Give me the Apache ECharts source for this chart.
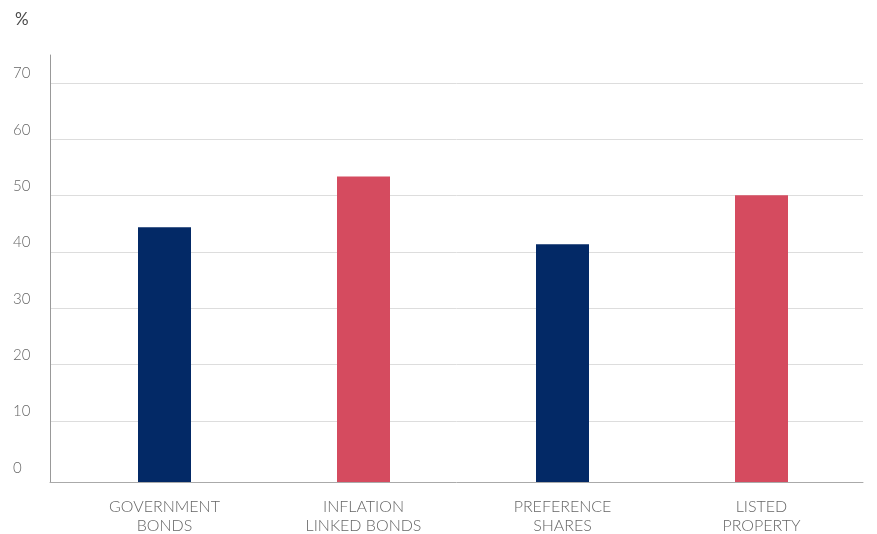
<!DOCTYPE html>
<html>
<head>
<meta charset="utf-8">
<script src="https://cdn.jsdelivr.net/npm/echarts@6/dist/echarts.min.js"></script>
<style>
  html, body { margin: 0; padding: 0; background: #fff; }
  #chart { width: 877px; height: 534px; }
</style>
</head>
<body>
<div id="chart"></div>
<script>
// data
const categories = ['GOVERNMENT\nBONDS', 'INFLATION\nLINKED BONDS', 'PREFERENCE\nSHARES', 'LISTED\nPROPERTY']
const values = [44.4, 53.4, 41.4, 50.1]
const barColors = ['#032966', '#D54B5F', '#032966', '#D54B5F']
const tickLabels = [0, 10, 20, 30, 40, 50, 60, 70]
const gridTicks = [10, 20, 30, 40, 50, 60, 70]

const fontFamily = 'Lato, "Open Sans", sans-serif'
// the baseline sits a little below the 0 value
const yMin = -0.85
const yMax = 75

const chart = echarts.init(document.getElementById('chart'))

// bars run from the baseline (yMin) up to their value
function renderBar(params, api) {
  const idx = api.value(0)
  const top = api.coord([idx, api.value(1)])
  const bottom = api.coord([idx, yMin])
  const w = 53
  return {
    type: 'rect',
    shape: { x: top[0] - w / 2, y: top[1], width: w, height: bottom[1] - top[1] },
    style: { fill: barColors[params.dataIndex] },
  }
}

const option = {
  animation: false,
  backgroundColor: '#fff',
  textStyle: { fontFamily },
  title: {
    text: '%',
    left: 15,
    top: 11,
    padding: 0,
    textStyle: { fontSize: 17, fontWeight: 'normal', color: '#4a4a4a', fontFamily },
  },
  grid: [
    // frame: y axis, gridlines, baseline
    { left: 50, right: 14, top: 55, bottom: 52, outerBoundsMode: 'none' },
    // bars and category labels
    { left: 65, right: 16, top: 55, bottom: 52, outerBoundsMode: 'none' },
  ],
  xAxis: [
    {
      gridIndex: 0,
      type: 'value',
      min: 0,
      max: 1,
      axisLine: { show: true, onZero: false, lineStyle: { color: '#aaa', width: 1 } },
      axisTick: { show: false },
      axisLabel: { show: false },
      splitLine: { show: false },
    },
    {
      gridIndex: 1,
      type: 'category',
      data: categories,
      axisLine: { show: false },
      axisTick: { show: false },
      axisLabel: {
        color: '#666',
        fontSize: 16,
        fontWeight: 300,
        lineHeight: 19,
        margin: 15,
        fontFamily,
      },
    },
  ],
  yAxis: [
    {
      gridIndex: 0,
      type: 'value',
      min: yMin,
      max: yMax,
      axisLine: { show: true, lineStyle: { color: '#999', width: 1 } },
      axisTick: { show: false, customValues: gridTicks },
      axisLabel: {
        customValues: tickLabels,
        color: '#666',
        fontSize: 15,
        fontWeight: 300,
        align: 'left',
        verticalAlign: 'bottom',
        margin: 37,
        padding: [0, 0, 2, 0],
        fontFamily,
      },
      splitLine: { show: true, lineStyle: { color: '#dddddd', width: 1 } },
    },
    {
      gridIndex: 1,
      type: 'value',
      min: yMin,
      max: yMax,
      show: false,
      splitLine: { show: false },
    },
  ],
  series: [
    {
      type: 'custom',
      xAxisIndex: 1,
      yAxisIndex: 1,
      renderItem: renderBar,
      data: values.map((v, i) => [i, v]),
    },
  ],
}
chart.setOption(option)
</script>
</body>
</html>
